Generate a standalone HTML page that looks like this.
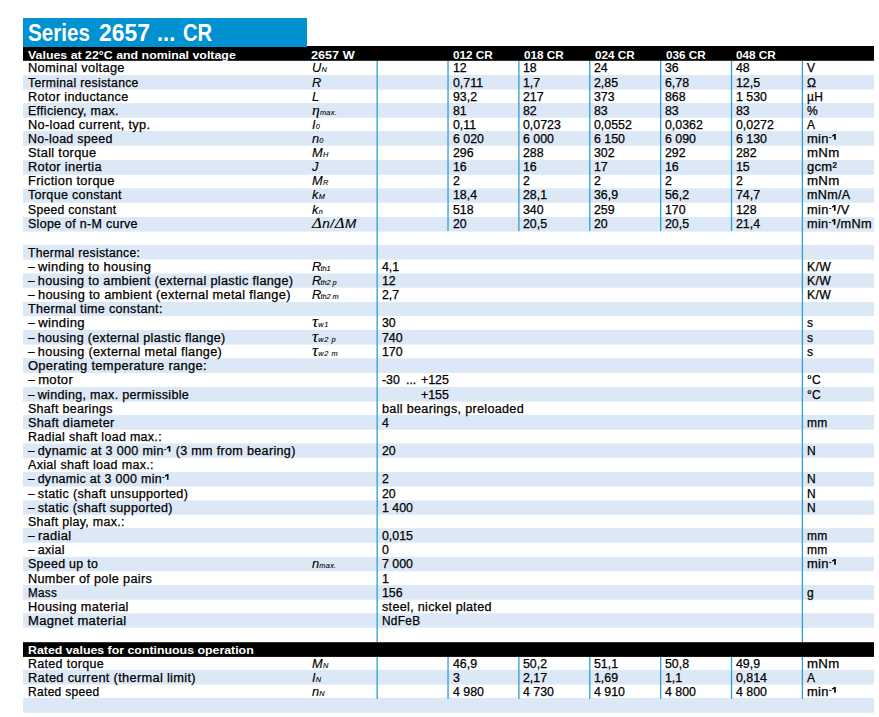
<!DOCTYPE html>
<html><head><meta charset="utf-8"><title>Series 2657 ... CR</title>
<style>
html,body{margin:0;padding:0;background:#fff;}
body{width:879px;height:717px;position:relative;overflow:hidden;font-family:"Liberation Sans",sans-serif;color:#000;}
.st{position:absolute;left:23.0px;width:851.0px;height:14.156px;background:#dce8f5;}
.title{position:absolute;left:23.0px;top:18px;width:284.0px;height:29px;background:#0091d0;}
.ttl{position:absolute;top:19px;font-size:23.6px;line-height:28px;font-weight:bold;color:#fff;white-space:nowrap;transform-origin:0 50%;}
.bk{position:absolute;left:23.0px;width:851.0px;height:14.1px;background:#000;}
.vl{position:absolute;width:1px;}
.t,.h{position:absolute;white-space:nowrap;font-size:12.0px;line-height:14px;height:14px;transform-origin:0 50%;}
.t{-webkit-text-stroke:0.25px #000;letter-spacing:0.3px;}
.h{font-weight:bold;color:#fff;font-size:11.5px;line-height:13px;height:13px;}
.n{font-size:12px;letter-spacing:0;}
.d{margin-right:-1.3px;display:inline-block;transform:scaleX(0.93);transform-origin:0 50%;}
.i{font-style:italic;font-size:12px;-webkit-text-stroke:0.12px #000;letter-spacing:0.2px;}
.sb{font-size:6.9px;letter-spacing:0.25px;-webkit-text-stroke:0.1px #000;}
.s3{letter-spacing:0.55px;}
.s2{letter-spacing:-0.1px;margin-left:-0.9px;}
.s1{vertical-align:3.2px;margin:0 0.5px 0 0.2px;}
.hy{font-size:8px;font-weight:bold;position:relative;top:-3.7px;letter-spacing:0;-webkit-text-stroke:0;}
.gr{font-family:"Liberation Serif",serif;}
.g2{font-size:14.5px;line-height:10px;}
.g3{font-size:16px;}
.dl{letter-spacing:0.55px;font-size:12.6px}
.dl .gr{font-size:15.4px;line-height:10px;}
</style></head>
<body>
<div class="st" style="top:76px;height:13px"></div>
<div class="st" style="top:75px;height:1px;opacity:0.92"></div>
<div class="st" style="top:89px;height:1px;opacity:0.64"></div>
<div class="st" style="top:104px;height:13px"></div>
<div class="st" style="top:103px;height:1px;opacity:0.93"></div>
<div class="st" style="top:117px;height:1px;opacity:0.76"></div>
<div class="st" style="top:132px;height:13px"></div>
<div class="st" style="top:131px;height:1px;opacity:0.94"></div>
<div class="st" style="top:145px;height:1px;opacity:0.80"></div>
<div class="st" style="top:161px;height:13px"></div>
<div class="st" style="top:160px;height:1px;opacity:0.92"></div>
<div class="st" style="top:174px;height:1px;opacity:0.77"></div>
<div class="st" style="top:189px;height:13px"></div>
<div class="st" style="top:188px;height:1px;opacity:0.70"></div>
<div class="st" style="top:202px;height:1px;opacity:0.76"></div>
<div class="st" style="top:217px;height:14px"></div>
<div class="st" style="top:216px;height:1px;opacity:0.06"></div>
<div class="st" style="top:231px;height:1px;opacity:0.65"></div>
<div class="st" style="top:246px;height:13px"></div>
<div class="st" style="top:245px;height:1px;opacity:0.92"></div>
<div class="st" style="top:259px;height:1px;opacity:0.64"></div>
<div class="st" style="top:274px;height:13px"></div>
<div class="st" style="top:273px;height:1px;opacity:0.55"></div>
<div class="st" style="top:287px;height:1px;opacity:0.76"></div>
<div class="st" style="top:302px;height:14px"></div>
<div class="st" style="top:301px;height:1px;opacity:0.06"></div>
<div class="st" style="top:316px;height:1px;opacity:0.14"></div>
<div class="st" style="top:330px;height:14px"></div>
<div class="st" style="top:329px;height:1px;opacity:0.05"></div>
<div class="st" style="top:344px;height:1px;opacity:0.63"></div>
<div class="st" style="top:359px;height:13px"></div>
<div class="st" style="top:358px;height:1px;opacity:0.81"></div>
<div class="st" style="top:372px;height:1px;opacity:0.88"></div>
<div class="st" style="top:387px;height:14px"></div>
<div class="st" style="top:386px;height:1px;opacity:0.07"></div>
<div class="st" style="top:401px;height:1px;opacity:0.50"></div>
<div class="st" style="top:415px;height:14px"></div>
<div class="st" style="top:414px;height:1px;opacity:0.06"></div>
<div class="st" style="top:429px;height:1px;opacity:0.63"></div>
<div class="st" style="top:444px;height:13px"></div>
<div class="st" style="top:443px;height:1px;opacity:0.56"></div>
<div class="st" style="top:457px;height:1px;opacity:0.87"></div>
<div class="st" style="top:473px;height:13px"></div>
<div class="st" style="top:472px;height:1px;opacity:0.94"></div>
<div class="st" style="top:486px;height:1px;opacity:0.50"></div>
<div class="st" style="top:501px;height:13px"></div>
<div class="st" style="top:500px;height:1px;opacity:0.68"></div>
<div class="st" style="top:514px;height:1px;opacity:0.75"></div>
<div class="st" style="top:529px;height:13px"></div>
<div class="st" style="top:528px;height:1px;opacity:0.82"></div>
<div class="st" style="top:542px;height:1px;opacity:0.74"></div>
<div class="st" style="top:557px;height:14px"></div>
<div class="st" style="top:556px;height:1px;opacity:0.20"></div>
<div class="st" style="top:571px;height:1px;opacity:0.30"></div>
<div class="st" style="top:586px;height:13px"></div>
<div class="st" style="top:585px;height:1px;opacity:0.94"></div>
<div class="st" style="top:599px;height:1px;opacity:0.75"></div>
<div class="st" style="top:614px;height:13px"></div>
<div class="st" style="top:613px;height:1px;opacity:0.70"></div>
<div class="st" style="top:627px;height:1px;opacity:0.74"></div>
<div class="st" style="top:670px;height:14px"></div>
<div class="st" style="top:669px;height:1px;opacity:0.10"></div>
<div class="st" style="top:684px;height:1px;opacity:0.58"></div>
<div class="st" style="top:698px;height:14px"></div>
<div class="st" style="top:697px;height:1px;opacity:0.10"></div>
<div class="st" style="top:712px;height:1px;opacity:0.80"></div>
<div class="bk" style="top:46px;height:14px"></div>
<div class="bk" style="top:60px;height:1px;opacity:0.80"></div>
<div class="bk" style="top:643px;height:13px"></div>
<div class="bk" style="top:642px;height:1px;opacity:0.80"></div>
<div class="bk" style="top:656px;height:1px;opacity:0.90"></div>
<div class="title"></div>
<div class="ttl" style="left:28.23px;transform:scaleX(0.8739)">Series</div>
<div class="ttl" style="left:98.63px;transform:scaleX(0.9700)">2657</div>
<div class="ttl" style="left:156.95px;transform:scaleX(0.9250)">...</div>
<div class="ttl" style="left:182.55px;transform:scaleX(0.8531)">CR</div>
<div class="vl" style="left:376px;top:61px;height:581px;background:rgba(43,159,214,0.50)"></div>
<div class="vl" style="left:377px;top:61px;height:581px;background:rgba(43,159,214,0.80)"></div>
<div class="vl" style="left:801px;top:61px;height:581px;background:rgba(43,159,214,0.25)"></div>
<div class="vl" style="left:802px;top:61px;height:581px;background:rgba(43,159,214,1.00)"></div>
<div class="vl" style="left:803px;top:61px;height:581px;background:rgba(43,159,214,0.05)"></div>
<div class="vl" style="left:447px;top:61px;height:170px;background:rgba(43,159,214,0.62)"></div>
<div class="vl" style="left:448px;top:61px;height:170px;background:rgba(43,159,214,0.68)"></div>
<div class="vl" style="left:518px;top:61px;height:170px;background:rgba(43,159,214,0.75)"></div>
<div class="vl" style="left:519px;top:61px;height:170px;background:rgba(43,159,214,0.55)"></div>
<div class="vl" style="left:589px;top:61px;height:170px;background:rgba(43,159,214,0.88)"></div>
<div class="vl" style="left:590px;top:61px;height:170px;background:rgba(43,159,214,0.42)"></div>
<div class="vl" style="left:660px;top:61px;height:170px;background:rgba(43,159,214,1.00)"></div>
<div class="vl" style="left:661px;top:61px;height:170px;background:rgba(43,159,214,0.30)"></div>
<div class="vl" style="left:730px;top:61px;height:170px;background:rgba(43,159,214,0.12)"></div>
<div class="vl" style="left:731px;top:61px;height:170px;background:rgba(43,159,214,1.00)"></div>
<div class="vl" style="left:732px;top:61px;height:170px;background:rgba(43,159,214,0.17)"></div>
<div class="vl" style="left:376px;top:657px;height:42px;background:rgba(43,159,214,0.50)"></div>
<div class="vl" style="left:377px;top:657px;height:42px;background:rgba(43,159,214,0.80)"></div>
<div class="vl" style="left:447px;top:657px;height:42px;background:rgba(43,159,214,0.62)"></div>
<div class="vl" style="left:448px;top:657px;height:42px;background:rgba(43,159,214,0.68)"></div>
<div class="vl" style="left:518px;top:657px;height:42px;background:rgba(43,159,214,0.75)"></div>
<div class="vl" style="left:519px;top:657px;height:42px;background:rgba(43,159,214,0.55)"></div>
<div class="vl" style="left:589px;top:657px;height:42px;background:rgba(43,159,214,0.88)"></div>
<div class="vl" style="left:590px;top:657px;height:42px;background:rgba(43,159,214,0.42)"></div>
<div class="vl" style="left:660px;top:657px;height:42px;background:rgba(43,159,214,1.00)"></div>
<div class="vl" style="left:661px;top:657px;height:42px;background:rgba(43,159,214,0.30)"></div>
<div class="vl" style="left:730px;top:657px;height:42px;background:rgba(43,159,214,0.12)"></div>
<div class="vl" style="left:731px;top:657px;height:42px;background:rgba(43,159,214,1.00)"></div>
<div class="vl" style="left:732px;top:657px;height:42px;background:rgba(43,159,214,0.17)"></div>
<div class="vl" style="left:801px;top:657px;height:42px;background:rgba(43,159,214,0.25)"></div>
<div class="vl" style="left:802px;top:657px;height:42px;background:rgba(43,159,214,1.00)"></div>
<div class="vl" style="left:803px;top:657px;height:42px;background:rgba(43,159,214,0.05)"></div>
<div class="h" style="left:27.50px;top:49.00px;transform:scaleX(1.0758);">Values at 22°C and nominal voltage</div>
<div class="h" style="left:310.80px;top:49.00px;transform:scaleX(1.1);">2657 W</div>
<div class="h" style="left:452.88px;top:49.00px;transform:scaleX(1.02);">012 CR</div>
<div class="h" style="left:523.75px;top:49.00px;transform:scaleX(1.02);">018 CR</div>
<div class="h" style="left:594.62px;top:49.00px;transform:scaleX(1.02);">024 CR</div>
<div class="h" style="left:665.50px;top:49.00px;transform:scaleX(1.02);">036 CR</div>
<div class="h" style="left:736.38px;top:49.00px;transform:scaleX(1.02);">048 CR</div>
<div class="t" style="left:27.50px;top:61.00px;transform:scaleX(1.0693);">Nominal voltage</div>
<div class="t i" style="left:311.60px;top:61.00px;transform:scaleX(1.0700);">U<span class="sb">N</span></div>
<div class="t n" style="left:452.57px;top:61.00px;transform:scaleX(1.0300);">12</div>
<div class="t n" style="left:523.45px;top:61.00px;transform:scaleX(1.0300);">18</div>
<div class="t n" style="left:594.33px;top:61.00px;transform:scaleX(1.0300);">24</div>
<div class="t n" style="left:665.20px;top:61.00px;transform:scaleX(1.0300);">36</div>
<div class="t n" style="left:736.08px;top:61.00px;transform:scaleX(1.0300);">48</div>
<div class="t" style="left:806.95px;top:61.00px;">V</div>
<div class="t" style="left:27.50px;top:76.00px;transform:scaleX(1.0147);">Terminal resistance</div>
<div class="t i" style="left:311.60px;top:76.00px;transform:scaleX(1.0700);">R<span class="sb"></span></div>
<div class="t n" style="left:452.57px;top:76.00px;transform:scaleX(1.0300);">0,711</div>
<div class="t n" style="left:523.45px;top:76.00px;transform:scaleX(1.0300);">1,7</div>
<div class="t n" style="left:594.33px;top:76.00px;transform:scaleX(1.0300);">2,85</div>
<div class="t n" style="left:665.20px;top:76.00px;transform:scaleX(1.0300);">6,78</div>
<div class="t n" style="left:736.08px;top:76.00px;transform:scaleX(1.0300);">12,5</div>
<div class="t" style="left:806.95px;top:76.00px;">Ω</div>
<div class="t" style="left:27.50px;top:90.00px;transform:scaleX(1.0519);">Rotor inductance</div>
<div class="t i" style="left:311.60px;top:90.00px;transform:scaleX(1.0700);">L<span class="sb"></span></div>
<div class="t n" style="left:452.57px;top:90.00px;transform:scaleX(1.0300);">93,2</div>
<div class="t n" style="left:523.45px;top:90.00px;transform:scaleX(1.0300);">217</div>
<div class="t n" style="left:594.33px;top:90.00px;transform:scaleX(1.0300);">373</div>
<div class="t n" style="left:665.20px;top:90.00px;transform:scaleX(1.0300);">868</div>
<div class="t n" style="left:736.08px;top:90.00px;transform:scaleX(1.0300);">1 530</div>
<div class="t" style="left:806.95px;top:90.00px;">µH</div>
<div class="t" style="left:27.50px;top:104.00px;transform:scaleX(1.0335);">Efficiency, max.</div>
<div class="t i" style="left:311.60px;top:104.00px;transform:scaleX(1.0700);"><span class="gr g2">η</span><span class="sb">max.</span></div>
<div class="t n" style="left:452.57px;top:104.00px;transform:scaleX(1.0300);">81</div>
<div class="t n" style="left:523.45px;top:104.00px;transform:scaleX(1.0300);">82</div>
<div class="t n" style="left:594.33px;top:104.00px;transform:scaleX(1.0300);">83</div>
<div class="t n" style="left:665.20px;top:104.00px;transform:scaleX(1.0300);">83</div>
<div class="t n" style="left:736.08px;top:104.00px;transform:scaleX(1.0300);">83</div>
<div class="t" style="left:806.95px;top:104.00px;">%</div>
<div class="t" style="left:27.50px;top:118.00px;transform:scaleX(1.0634);">No-load current, typ.</div>
<div class="t i" style="left:311.60px;top:118.00px;transform:scaleX(1.0700);">I<span class="sb">0</span></div>
<div class="t n" style="left:452.57px;top:118.00px;transform:scaleX(1.0300);">0,11</div>
<div class="t n" style="left:523.45px;top:118.00px;transform:scaleX(1.0300);">0,0723</div>
<div class="t n" style="left:594.33px;top:118.00px;transform:scaleX(1.0300);">0,0552</div>
<div class="t n" style="left:665.20px;top:118.00px;transform:scaleX(1.0300);">0,0362</div>
<div class="t n" style="left:736.08px;top:118.00px;transform:scaleX(1.0300);">0,0272</div>
<div class="t" style="left:806.95px;top:118.00px;">A</div>
<div class="t" style="left:27.50px;top:132.00px;transform:scaleX(1.0323);">No-load speed</div>
<div class="t i" style="left:311.60px;top:132.00px;transform:scaleX(1.0700);">n<span class="sb">0</span></div>
<div class="t n" style="left:452.57px;top:132.00px;transform:scaleX(1.0300);">6 020</div>
<div class="t n" style="left:523.45px;top:132.00px;transform:scaleX(1.0300);">6 000</div>
<div class="t n" style="left:594.33px;top:132.00px;transform:scaleX(1.0300);">6 150</div>
<div class="t n" style="left:665.20px;top:132.00px;transform:scaleX(1.0300);">6 090</div>
<div class="t n" style="left:736.08px;top:132.00px;transform:scaleX(1.0300);">6 130</div>
<div class="t" style="left:806.95px;top:132.00px;transform:scaleX(1.0776);">min<span class="hy">-</span><svg class="s1" width="4.4" height="5.8" viewBox="0 0 4.4 5.8"><path d="M2.2 0H3.75V5.8H2.2V1.65L0.65 2.75L0.05 1.75Z"/></svg></div>
<div class="t" style="left:27.50px;top:146.00px;transform:scaleX(1.0646);">Stall torque</div>
<div class="t i" style="left:311.60px;top:146.00px;transform:scaleX(1.0700);">M<span class="sb">H</span></div>
<div class="t n" style="left:452.57px;top:146.00px;transform:scaleX(1.0300);">296</div>
<div class="t n" style="left:523.45px;top:146.00px;transform:scaleX(1.0300);">288</div>
<div class="t n" style="left:594.33px;top:146.00px;transform:scaleX(1.0300);">302</div>
<div class="t n" style="left:665.20px;top:146.00px;transform:scaleX(1.0300);">292</div>
<div class="t n" style="left:736.08px;top:146.00px;transform:scaleX(1.0300);">282</div>
<div class="t" style="left:806.95px;top:146.00px;transform:scaleX(1.1033);">mNm</div>
<div class="t" style="left:27.50px;top:160.00px;transform:scaleX(1.0672);">Rotor inertia</div>
<div class="t i" style="left:311.60px;top:160.00px;transform:scaleX(1.0700);">J<span class="sb"></span></div>
<div class="t n" style="left:452.57px;top:160.00px;transform:scaleX(1.0300);">16</div>
<div class="t n" style="left:523.45px;top:160.00px;transform:scaleX(1.0300);">16</div>
<div class="t n" style="left:594.33px;top:160.00px;transform:scaleX(1.0300);">17</div>
<div class="t n" style="left:665.20px;top:160.00px;transform:scaleX(1.0300);">16</div>
<div class="t n" style="left:736.08px;top:160.00px;transform:scaleX(1.0300);">15</div>
<div class="t" style="left:806.95px;top:160.00px;transform:scaleX(1.0776);">gcm²</div>
<div class="t" style="left:27.50px;top:174.00px;transform:scaleX(1.0683);">Friction torque</div>
<div class="t i" style="left:311.60px;top:174.00px;transform:scaleX(1.0700);">M<span class="sb">R</span></div>
<div class="t n" style="left:452.57px;top:174.00px;transform:scaleX(1.0300);">2</div>
<div class="t n" style="left:523.45px;top:174.00px;transform:scaleX(1.0300);">2</div>
<div class="t n" style="left:594.33px;top:174.00px;transform:scaleX(1.0300);">2</div>
<div class="t n" style="left:665.20px;top:174.00px;transform:scaleX(1.0300);">2</div>
<div class="t n" style="left:736.08px;top:174.00px;transform:scaleX(1.0300);">2</div>
<div class="t" style="left:806.95px;top:174.00px;transform:scaleX(1.1033);">mNm</div>
<div class="t" style="left:27.50px;top:188.00px;transform:scaleX(1.0447);">Torque constant</div>
<div class="t i" style="left:311.60px;top:188.00px;transform:scaleX(1.0700);">k<span class="sb">M</span></div>
<div class="t n" style="left:452.57px;top:188.00px;transform:scaleX(1.0300);">18,4</div>
<div class="t n" style="left:523.45px;top:188.00px;transform:scaleX(1.0300);">28,1</div>
<div class="t n" style="left:594.33px;top:188.00px;transform:scaleX(1.0300);">36,9</div>
<div class="t n" style="left:665.20px;top:188.00px;transform:scaleX(1.0300);">56,2</div>
<div class="t n" style="left:736.08px;top:188.00px;transform:scaleX(1.0300);">74,7</div>
<div class="t" style="left:806.95px;top:188.00px;transform:scaleX(1.0463);">mNm/A</div>
<div class="t" style="left:27.50px;top:203.00px;transform:scaleX(1.0103);">Speed constant</div>
<div class="t i" style="left:311.60px;top:203.00px;transform:scaleX(1.0700);">k<span class="sb">n</span></div>
<div class="t n" style="left:452.57px;top:203.00px;transform:scaleX(1.0300);">518</div>
<div class="t n" style="left:523.45px;top:203.00px;transform:scaleX(1.0300);">340</div>
<div class="t n" style="left:594.33px;top:203.00px;transform:scaleX(1.0300);">259</div>
<div class="t n" style="left:665.20px;top:203.00px;transform:scaleX(1.0300);">170</div>
<div class="t n" style="left:736.08px;top:203.00px;transform:scaleX(1.0300);">128</div>
<div class="t" style="left:806.95px;top:203.00px;transform:scaleX(1.0691);">min<span class="hy">-</span><svg class="s1" width="4.4" height="5.8" viewBox="0 0 4.4 5.8"><path d="M2.2 0H3.75V5.8H2.2V1.65L0.65 2.75L0.05 1.75Z"/></svg>/V</div>
<div class="t" style="left:27.50px;top:217.00px;transform:scaleX(1.0351);">Slope of n-M curve</div>
<div class="t i" style="left:311.60px;top:217.00px;transform:scaleX(1.0700);"><span class="dl"><span class="gr">Δ</span>n/<span class="gr">Δ</span>M</span></div>
<div class="t n" style="left:452.57px;top:217.00px;transform:scaleX(1.0300);">20</div>
<div class="t n" style="left:523.45px;top:217.00px;transform:scaleX(1.0300);">20,5</div>
<div class="t n" style="left:594.33px;top:217.00px;transform:scaleX(1.0300);">20</div>
<div class="t n" style="left:665.20px;top:217.00px;transform:scaleX(1.0300);">20,5</div>
<div class="t n" style="left:736.08px;top:217.00px;transform:scaleX(1.0300);">21,4</div>
<div class="t" style="left:806.95px;top:217.00px;transform:scaleX(1.0616);">min<span class="hy">-</span><svg class="s1" width="4.4" height="5.8" viewBox="0 0 4.4 5.8"><path d="M2.2 0H3.75V5.8H2.2V1.65L0.65 2.75L0.05 1.75Z"/></svg>/mNm</div>
<div class="t" style="left:27.50px;top:246.00px;transform:scaleX(1.0100);">Thermal resistance:</div>
<div class="t" style="left:27.50px;top:260.00px;transform:scaleX(1.0793);"><span class="d">–</span> winding to housing</div>
<div class="t i" style="left:311.60px;top:260.00px;transform:scaleX(1.0700);">R<span class="sb s2">th1</span></div>
<div class="t n" style="left:381.70px;top:260.00px;transform:scaleX(1.0300);">4,1</div>
<div class="t" style="left:806.95px;top:260.00px;transform:scaleX(1.0173);">K/W</div>
<div class="t" style="left:27.50px;top:274.00px;transform:scaleX(1.0559);"><span class="d">–</span> housing to ambient (external plastic flange)</div>
<div class="t i" style="left:311.60px;top:274.00px;transform:scaleX(1.0700);">R<span class="sb s2">th2 p</span></div>
<div class="t n" style="left:381.70px;top:274.00px;transform:scaleX(1.0300);">12</div>
<div class="t" style="left:806.95px;top:274.00px;transform:scaleX(1.0173);">K/W</div>
<div class="t" style="left:27.50px;top:288.00px;transform:scaleX(1.0679);"><span class="d">–</span> housing to ambient (external metal flange)</div>
<div class="t i" style="left:311.60px;top:288.00px;transform:scaleX(1.0700);">R<span class="sb s2">th2 m</span></div>
<div class="t n" style="left:381.70px;top:288.00px;transform:scaleX(1.0300);">2,7</div>
<div class="t" style="left:806.95px;top:288.00px;transform:scaleX(1.0173);">K/W</div>
<div class="t" style="left:27.50px;top:302.00px;transform:scaleX(1.0471);">Thermal time constant:</div>
<div class="t" style="left:27.50px;top:316.00px;transform:scaleX(1.0932);"><span class="d">–</span> winding</div>
<div class="t i" style="left:311.60px;top:316.00px;transform:scaleX(1.0700);"><span class="gr g2 g3">τ</span><span class="sb s3">w1</span></div>
<div class="t n" style="left:381.70px;top:316.00px;transform:scaleX(1.0300);">30</div>
<div class="t" style="left:806.95px;top:316.00px;">s</div>
<div class="t" style="left:27.50px;top:331.00px;transform:scaleX(1.0469);"><span class="d">–</span> housing (external plastic flange)</div>
<div class="t i" style="left:311.60px;top:331.00px;transform:scaleX(1.0700);"><span class="gr g2 g3">τ</span><span class="sb s3">w2 p</span></div>
<div class="t n" style="left:381.70px;top:331.00px;transform:scaleX(1.0300);">740</div>
<div class="t" style="left:806.95px;top:331.00px;">s</div>
<div class="t" style="left:27.50px;top:345.00px;transform:scaleX(1.0586);"><span class="d">–</span> housing (external metal flange)</div>
<div class="t i" style="left:311.60px;top:345.00px;transform:scaleX(1.0700);"><span class="gr g2 g3">τ</span><span class="sb s3">w2 m</span></div>
<div class="t n" style="left:381.70px;top:345.00px;transform:scaleX(1.0300);">170</div>
<div class="t" style="left:806.95px;top:345.00px;">s</div>
<div class="t" style="left:27.50px;top:359.00px;transform:scaleX(1.0748);">Operating temperature range:</div>
<div class="t" style="left:27.50px;top:373.00px;transform:scaleX(1.0867);"><span class="d">–</span> motor</div>
<div class="t n" style="left:381.70px;top:373.00px;transform:scaleX(1.0300);">-30</div>
<div class="t n" style="left:406.00px;top:373.00px;transform:scaleX(1.0300);">...</div>
<div class="t n" style="left:421.00px;top:373.00px;transform:scaleX(1.0300);">+125</div>
<div class="t" style="left:806.95px;top:373.00px;">°C</div>
<div class="t" style="left:27.50px;top:388.00px;transform:scaleX(1.0450);"><span class="d">–</span> winding, max. permissible</div>
<div class="t n" style="left:421.00px;top:388.00px;transform:scaleX(1.0300);">+155</div>
<div class="t" style="left:806.95px;top:388.00px;">°C</div>
<div class="t" style="left:27.50px;top:402.00px;transform:scaleX(1.0385);">Shaft bearings</div>
<div class="t" style="left:381.70px;top:402.00px;transform:scaleX(1.0495);">ball bearings, preloaded</div>
<div class="t" style="left:27.50px;top:416.00px;transform:scaleX(1.0515);">Shaft diameter</div>
<div class="t n" style="left:381.70px;top:416.00px;transform:scaleX(1.0300);">4</div>
<div class="t" style="left:806.95px;top:416.00px;">mm</div>
<div class="t" style="left:27.50px;top:430.00px;transform:scaleX(1.0384);">Radial shaft load max.:</div>
<div class="t" style="left:27.50px;top:444.00px;transform:scaleX(1.0489);"><span class="d">–</span> dynamic at 3 000 min<span class="hy">-</span><svg class="s1" width="4.4" height="5.8" viewBox="0 0 4.4 5.8"><path d="M2.2 0H3.75V5.8H2.2V1.65L0.65 2.75L0.05 1.75Z"/></svg> (3 mm from bearing)</div>
<div class="t n" style="left:381.70px;top:444.00px;transform:scaleX(1.0300);">20</div>
<div class="t" style="left:806.95px;top:444.00px;">N</div>
<div class="t" style="left:27.50px;top:458.00px;transform:scaleX(1.0427);">Axial shaft load max.:</div>
<div class="t" style="left:27.50px;top:472.00px;transform:scaleX(1.0352);"><span class="d">–</span> dynamic at 3 000 min<span class="hy">-</span><svg class="s1" width="4.4" height="5.8" viewBox="0 0 4.4 5.8"><path d="M2.2 0H3.75V5.8H2.2V1.65L0.65 2.75L0.05 1.75Z"/></svg></div>
<div class="t n" style="left:381.70px;top:472.00px;transform:scaleX(1.0300);">2</div>
<div class="t" style="left:806.95px;top:472.00px;">N</div>
<div class="t" style="left:27.50px;top:487.00px;transform:scaleX(1.0502);"><span class="d">–</span> static (shaft unsupported)</div>
<div class="t n" style="left:381.70px;top:487.00px;transform:scaleX(1.0300);">20</div>
<div class="t" style="left:806.95px;top:487.00px;">N</div>
<div class="t" style="left:27.50px;top:501.00px;transform:scaleX(1.0451);"><span class="d">–</span> static (shaft supported)</div>
<div class="t n" style="left:381.70px;top:501.00px;transform:scaleX(1.0300);">1 400</div>
<div class="t" style="left:806.95px;top:501.00px;">N</div>
<div class="t" style="left:27.50px;top:515.00px;transform:scaleX(1.0335);">Shaft play, max.:</div>
<div class="t" style="left:27.50px;top:529.00px;transform:scaleX(1.0709);"><span class="d">–</span> radial</div>
<div class="t n" style="left:381.70px;top:529.00px;transform:scaleX(1.0300);">0,015</div>
<div class="t" style="left:806.95px;top:529.00px;">mm</div>
<div class="t" style="left:27.50px;top:543.00px;transform:scaleX(1.0377);"><span class="d">–</span> axial</div>
<div class="t n" style="left:381.70px;top:543.00px;transform:scaleX(1.0300);">0</div>
<div class="t" style="left:806.95px;top:543.00px;">mm</div>
<div class="t" style="left:27.50px;top:557.00px;transform:scaleX(1.0311);">Speed up to</div>
<div class="t i" style="left:311.60px;top:557.00px;transform:scaleX(1.0700);">n<span class="sb">max.</span></div>
<div class="t n" style="left:381.70px;top:557.00px;transform:scaleX(1.0300);">7 000</div>
<div class="t" style="left:806.95px;top:557.00px;transform:scaleX(1.0776);">min<span class="hy">-</span><svg class="s1" width="4.4" height="5.8" viewBox="0 0 4.4 5.8"><path d="M2.2 0H3.75V5.8H2.2V1.65L0.65 2.75L0.05 1.75Z"/></svg></div>
<div class="t" style="left:27.50px;top:572.00px;transform:scaleX(1.0575);">Number of pole pairs</div>
<div class="t n" style="left:381.70px;top:572.00px;transform:scaleX(1.0300);">1</div>
<div class="t" style="left:27.50px;top:586.00px;transform:scaleX(0.9719);">Mass</div>
<div class="t n" style="left:381.70px;top:586.00px;transform:scaleX(1.0300);">156</div>
<div class="t" style="left:806.95px;top:586.00px;">g</div>
<div class="t" style="left:27.50px;top:600.00px;transform:scaleX(1.0620);">Housing material</div>
<div class="t" style="left:381.70px;top:600.00px;transform:scaleX(1.0484);">steel, nickel plated</div>
<div class="t" style="left:27.50px;top:614.00px;transform:scaleX(1.0872);">Magnet material</div>
<div class="t" style="left:381.70px;top:614.00px;transform:scaleX(0.9866);">NdFeB</div>
<div class="h" style="left:27.50px;top:644.00px;transform:scaleX(1.0735);">Rated values for continuous operation</div>
<div class="t" style="left:27.50px;top:657.00px;transform:scaleX(1.0400);">Rated torque</div>
<div class="t i" style="left:311.60px;top:657.00px;transform:scaleX(1.0700);">M<span class="sb">N</span></div>
<div class="t n" style="left:452.57px;top:657.00px;transform:scaleX(1.0300);">46,9</div>
<div class="t n" style="left:523.45px;top:657.00px;transform:scaleX(1.0300);">50,2</div>
<div class="t n" style="left:594.33px;top:657.00px;transform:scaleX(1.0300);">51,1</div>
<div class="t n" style="left:665.20px;top:657.00px;transform:scaleX(1.0300);">50,8</div>
<div class="t n" style="left:736.08px;top:657.00px;transform:scaleX(1.0300);">49,9</div>
<div class="t" style="left:806.95px;top:657.00px;transform:scaleX(1.1033);">mNm</div>
<div class="t" style="left:27.50px;top:671.00px;transform:scaleX(1.0665);">Rated current (thermal limit)</div>
<div class="t i" style="left:311.60px;top:671.00px;transform:scaleX(1.0700);">I<span class="sb">N</span></div>
<div class="t n" style="left:452.57px;top:671.00px;transform:scaleX(1.0300);">3</div>
<div class="t n" style="left:523.45px;top:671.00px;transform:scaleX(1.0300);">2,17</div>
<div class="t n" style="left:594.33px;top:671.00px;transform:scaleX(1.0300);">1,69</div>
<div class="t n" style="left:665.20px;top:671.00px;transform:scaleX(1.0300);">1,1</div>
<div class="t n" style="left:736.08px;top:671.00px;transform:scaleX(1.0300);">0,814</div>
<div class="t" style="left:806.95px;top:671.00px;">A</div>
<div class="t" style="left:27.50px;top:685.00px;transform:scaleX(1.0028);">Rated speed</div>
<div class="t i" style="left:311.60px;top:685.00px;transform:scaleX(1.0700);">n<span class="sb">N</span></div>
<div class="t n" style="left:452.57px;top:685.00px;transform:scaleX(1.0300);">4 980</div>
<div class="t n" style="left:523.45px;top:685.00px;transform:scaleX(1.0300);">4 730</div>
<div class="t n" style="left:594.33px;top:685.00px;transform:scaleX(1.0300);">4 910</div>
<div class="t n" style="left:665.20px;top:685.00px;transform:scaleX(1.0300);">4 800</div>
<div class="t n" style="left:736.08px;top:685.00px;transform:scaleX(1.0300);">4 800</div>
<div class="t" style="left:806.95px;top:685.00px;transform:scaleX(1.0776);">min<span class="hy">-</span><svg class="s1" width="4.4" height="5.8" viewBox="0 0 4.4 5.8"><path d="M2.2 0H3.75V5.8H2.2V1.65L0.65 2.75L0.05 1.75Z"/></svg></div>
</body></html>
